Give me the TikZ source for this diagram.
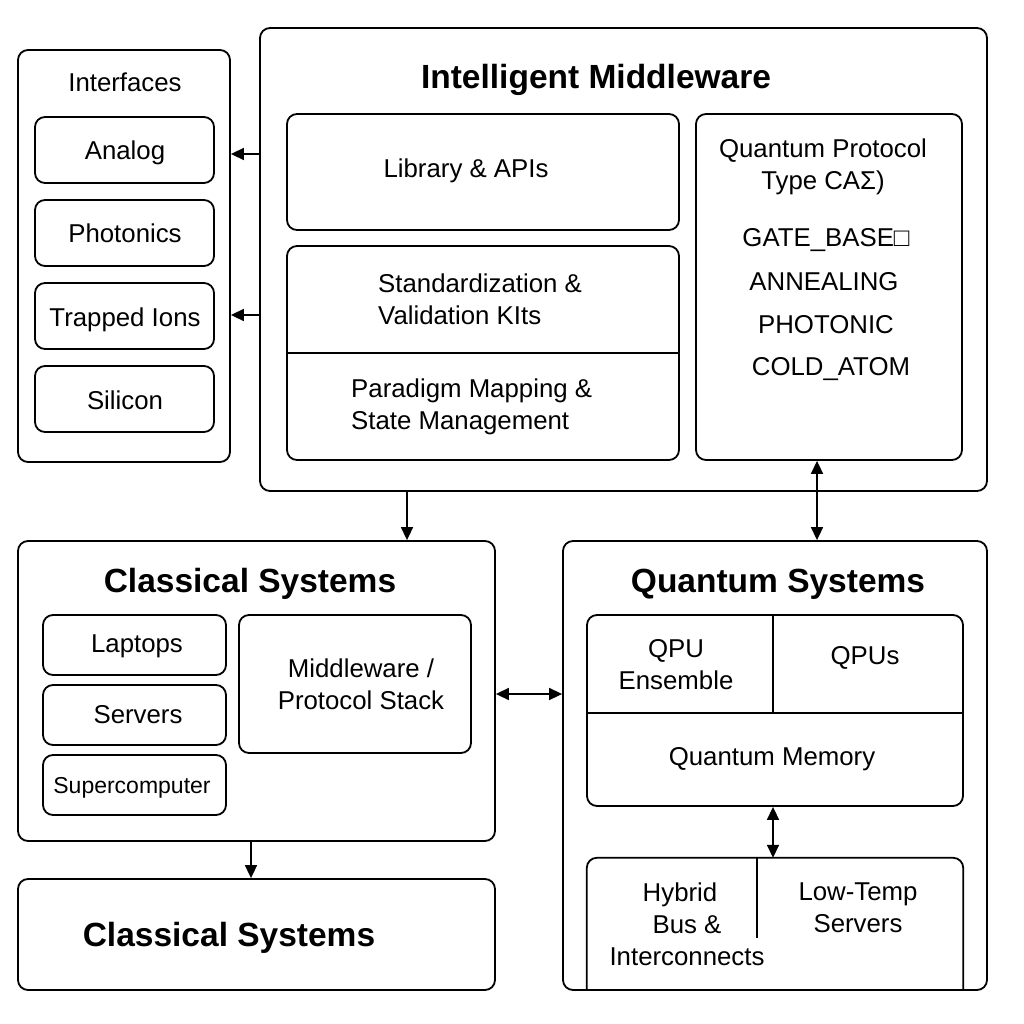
\documentclass[tikz,border=0pt]{standalone}
\usepackage{fontspec}
\setmainfont{Liberation Sans}
\usetikzlibrary{arrows.meta}
\newcommand\txtN{\fontsize{25.8}{32}\selectfont}
\newcommand\txtS{\fontsize{23}{28}\selectfont}
\newcommand\txtT{\fontsize{33.5}{40}\selectfont\bfseries}
\begin{document}
\begin{tikzpicture}[x=1pt,y=-1pt,
  box/.style={draw, rounded corners=10pt, line width=1.8pt, inner sep=0pt},
  lbl/.style={inner sep=0pt, font=\txtN, align=center},
  ttl/.style={inner sep=0pt, font=\txtT, anchor=base},
  arr/.style={line width=1.6pt, -{Triangle[length=13pt,width=12pt]}},
  darr/.style={line width=1.6pt, {Triangle[length=13pt,width=12pt]}-{Triangle[length=13pt,width=12pt]}}]
\useasboundingbox (0,0) rectangle (1024,1024);

% ---------- Interfaces ----------
\node[box, minimum width=212, minimum height=412] (ifc) at (124,256) {};
\node[lbl, anchor=base] (ifct) at (125,92) {Interfaces};
\node[box, minimum width=179, minimum height=66] (ana) at (124.5,150) {};
\node[box, minimum width=179, minimum height=66] (pho) at (124.5,233) {};
\node[box, minimum width=179, minimum height=66] (tri) at (124.5,316) {};
\node[box, minimum width=179, minimum height=66] (sil) at (124.5,399) {};
\node[lbl, anchor=base] (anat) at (125,160) {Analog};
\node[lbl, anchor=base] (phot) at (125,243) {Photonics};
\node[lbl, anchor=base] (trit) at (125,326) {Trapped Ions};
\node[lbl, anchor=base] (silt) at (125,409) {Silicon};

% ---------- Intelligent Middleware ----------
\node[box, minimum width=727, minimum height=463] (mw) at (623.5,259.5) {};
\node[ttl] (mwt) at (596,89) {Intelligent Middleware};
\node[box, minimum width=392, minimum height=116] (lib) at (483,172) {};
\node[lbl, anchor=base] (libt) at (466,178) {Library \& APIs};
\node[box, minimum width=392, minimum height=214] (std) at (483,353) {};
\draw[line width=1.6pt] (std.west |- 0,353) -- (std.east |- 0,353);
\node[lbl, align=left, anchor=west] (stdt) at (378,299) {Standardization \&\\Validation KIts};
\node[lbl, align=left, anchor=west] (part) at (351,407) {Paradigm Mapping \&\\State Management};
\node[box, minimum width=266, minimum height=346] (qp) at (829,287) {};
\node[lbl] (qpt) at (823,167) {Quantum Protocol\\Type CAΣ)};
\node[lbl, anchor=base] (g1) at (826,247) {GATE\_BASE□};
\node[lbl, anchor=base] (g2) at (824,290) {ANNEALING};
\node[lbl, anchor=base] (g3) at (826,333) {PHOTONIC};
\node[lbl, anchor=base] (g4) at (831,375) {COLD\_ATOM};

% ---------- Classical Systems ----------
\node[box, minimum width=477, minimum height=300] (cls) at (256.5,691) {};
\node[ttl] (clst) at (250,592) {Classical Systems};
\node[box, minimum width=183, minimum height=60] (lap) at (134.5,645) {};
\node[box, minimum width=183, minimum height=60] (srv) at (134.5,715) {};
\node[box, minimum width=183, minimum height=60] (sup) at (134.5,785) {};
\node[lbl, anchor=base] (lapt) at (137,652) {Laptops};
\node[lbl, anchor=base] (srvt) at (138,723) {Servers};
\node[lbl, anchor=base, font=\txtS] (supt) at (132,793) {Supercomputer};
\node[box, minimum width=232, minimum height=138] (mps) at (355,684) {};
\node[lbl] (mpst) at (361,684) {Middleware /\\Protocol Stack};

% ---------- Classical Systems (lower) ----------
\node[box, minimum width=477, minimum height=111] (cls2) at (256.5,934.5) {};
\node[ttl] (cls2t) at (229,946) {Classical Systems};

% ---------- Quantum Systems ----------
\node[box, minimum width=424, minimum height=449] (qs) at (775,765.5) {};
\node[ttl] (qst) at (778,592) {Quantum Systems};
\node[box, minimum width=376, minimum height=191] (qpu) at (775,710.5) {};
\draw[line width=1.6pt] (qpu.west |- 0,713) -- (qpu.east |- 0,713);
\draw[line width=1.6pt] (qpu.north -| 773,0) -- (773,713);
\node[lbl] (qpue) at (676,665) {QPU\\Ensemble};
\node[lbl, anchor=base] (qpus) at (865,664) {QPUs};
\node[lbl, anchor=base] (qmem) at (772,765) {Quantum Memory};
\node[inner sep=0pt, minimum width=376, minimum height=132] (hyb) at (775,924) {};
\draw[line width=1.8pt, rounded corners=10pt] (hyb.south west) -- (hyb.north west) -- (hyb.north east) -- (hyb.south east);
\draw[line width=1.6pt] (hyb.north -| 757,0) -- (757,938);
\node[lbl] (hybt) at (687,924) {\hspace*{-14pt}Hybrid\\Bus \&\\Interconnects};
\node[lbl] (lowt) at (858,908) {Low-Temp\\Servers};

% ---------- Connectors ----------
\draw[arr] (mw.west |- 0,154) -- (ifc.east |- 0,154);
\draw[arr] (mw.west |- 0,315) -- (ifc.east |- 0,315);
\draw[arr] (mw.south -| 407,0) -- (cls.north -| 407,0);
\draw[darr] (qp.south -| 817,0) -- (qs.north -| 817,0);
\draw[darr] (cls.east |- 0,694) -- (qs.west |- 0,694);
\draw[darr] (qpu.south -| 773,0) -- (hyb.north -| 773,0);
\draw[arr] (cls.south -| 251,0) -- (cls2.north -| 251,0);
\end{tikzpicture}
\end{document}
